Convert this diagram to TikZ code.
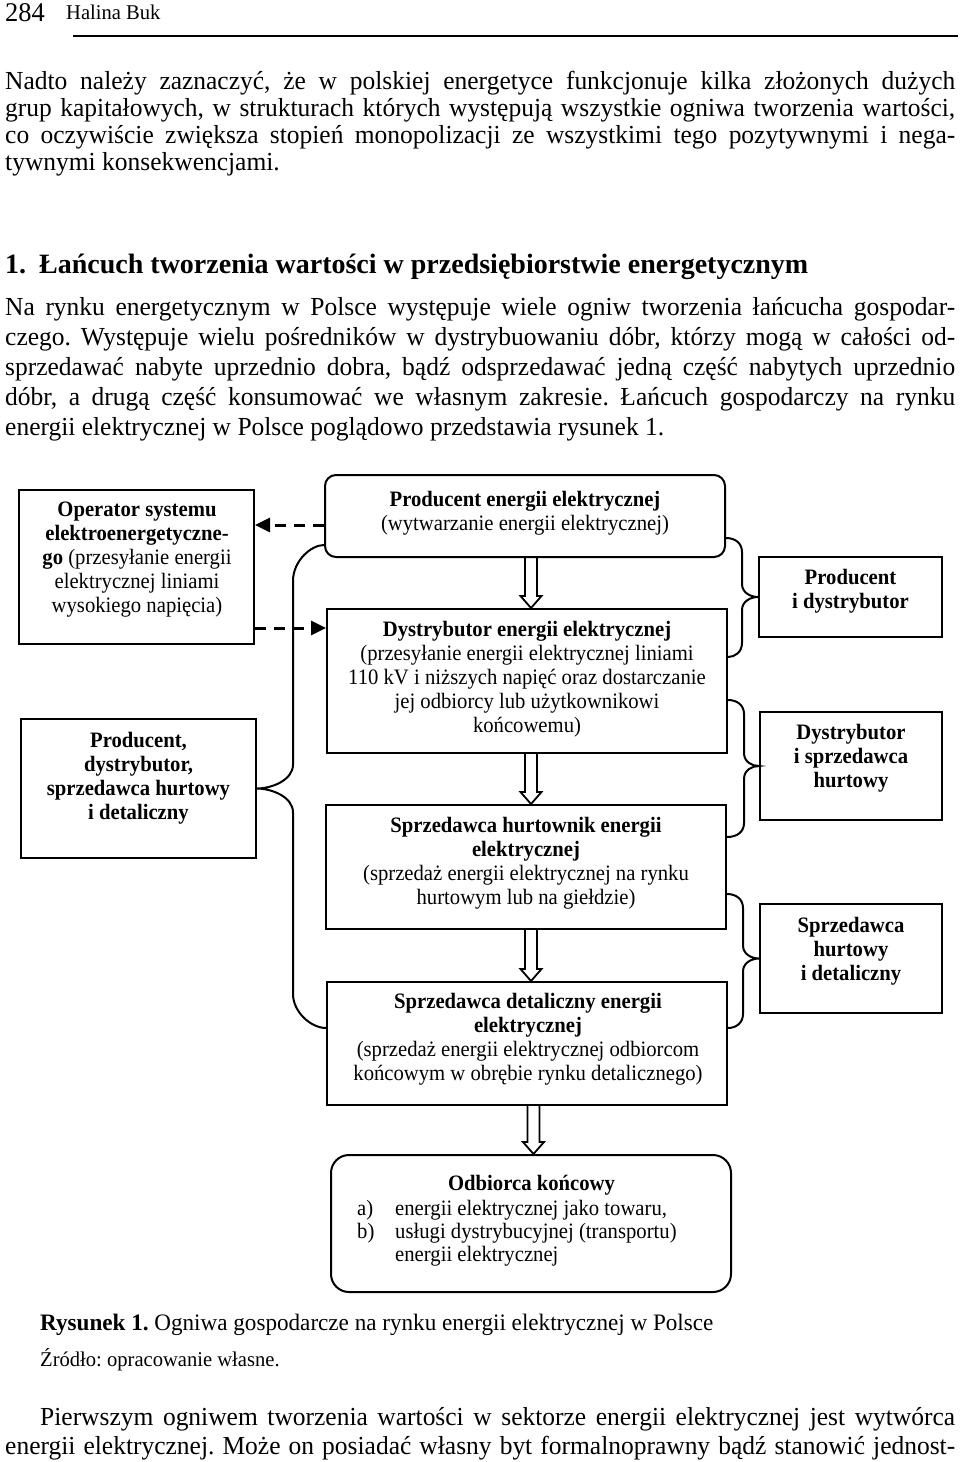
\documentclass[tikz,border=0pt]{standalone}
\usepackage{fontspec}
\setmainfont{Liberation Serif}
\newfontfamily\bodyf{Liberation Serif}[FakeStretch=0.98]
\newfontfamily\headf{Liberation Serif}
\newfontfamily\diagf{Liberation Serif}[FakeStretch=0.94]
\usetikzlibrary{arrows.meta,calc}
\frenchspacing

\tikzset{
  box/.style={draw, line width=2pt, inner sep=0pt},
  rbox/.style={box, rounded corners=11pt},
  txt/.style={inner sep=0pt, font=\diagf\fontsize{22}{24}\selectfont, align=center,
    execute at begin node=\strut, execute at end node=\strut},
  btxt/.style={txt, font=\diagf\fontsize{22}{24}\selectfont\bfseries},
  dline/.style={inner sep=0pt, anchor=base west, font=\diagf\fontsize{22}{24}\selectfont},
  bline/.style={inner sep=0pt, anchor=base west, font=\bodyf\fontsize{26}{28}\selectfont},
  hline/.style={inner sep=0pt, anchor=base west, font=\headf\fontsize{28}{30}\selectfont\bfseries},
  capline/.style={inner sep=0pt, anchor=base west, font=\bodyf\fontsize{23.6}{26}\selectfont},
  srcline/.style={inner sep=0pt, anchor=base west, font=\bodyf\fontsize{21}{24}\selectfont},
  harr/.style={line width=1.8pt, line join=miter},
  dasharr/.style={line width=3pt, dash pattern=on 11pt off 8pt, -{Triangle[length=15pt,width=14pt]}},
  brace/.style={line width=2pt},
}

\newcommand\hollowarr[3]{%
  \draw[harr] let \p1=(#3 |- #1.south), \p2=(#3 |- #2.north) in
    (\x1-6pt,\y1) -- (\x1-6pt,\y2+12pt) -- (\x1-10.5pt,\y2+12pt) -- (\x1,\y2)
    -- (\x1+10.5pt,\y2+12pt) -- (\x1+6pt,\y2+12pt) -- (\x1+6pt,\y1);}

\newcommand\mybraceR[3]{%
  \draw[brace] let \p1=(#1), \p2=(#2), \p3=(#3) in
    (\p1) .. controls (\x1+9pt,\y1) and (\x1+16pt,\y1-5pt) .. (\x1+16pt,\y1-14pt)
    -- (\x1+16pt,\y2+13pt) .. controls (\x1+16pt,\y2+4pt) and (\x2-7pt,\y2) .. (\p2)
    .. controls (\x2-7pt,\y2) and (\x1+16pt,\y2-4pt) .. (\x1+16pt,\y2-13pt)
    -- (\x1+16pt,\y3+14pt) .. controls (\x1+16pt,\y3+5pt) and (\x1+9pt,\y3) .. (\p3);}

\newcommand\mybraceL[3]{%
  \draw[brace] let \p1=(#1), \p2=(#2), \p3=(#3) in
    (\p1) .. controls (\x2+54pt,\y1) and (\x2+36pt,\y1-16pt) .. (\x2+36pt,\y1-36pt)
    -- (\x2+36pt,\y2+24pt) .. controls (\x2+36pt,\y2+8pt) and (\x2+14pt,\y2) .. (\p2)
    .. controls (\x2+14pt,\y2) and (\x2+36pt,\y2-8pt) .. (\x2+36pt,\y2-24pt)
    -- (\x2+36pt,\y3+34pt) .. controls (\x2+36pt,\y3+16pt) and (\x2+54pt,\y3) .. (\p3);}

\begin{document}
\begin{tikzpicture}[x=1pt, y=-1pt]
\useasboundingbox (0,0) rectangle (960,1462);

% ---------- header ----------
\node[inner sep=0pt, anchor=base west, font=\bodyf\fontsize{27}{30}\selectfont] (pnum) at (5,21) {284};
\node[inner sep=0pt, anchor=base west, font=\bodyf\fontsize{21}{24}\selectfont] (auth) at (66,19) {Halina Buk};
\coordinate (ruleL) at (73,36);
\coordinate (ruleR) at (958,36);
\draw[line width=1.2pt] (ruleL) -- (ruleR);

% ---------- paragraph 1 ----------
\node[bline] (p1a) at (5,89) {\makebox[950pt][s]{Nadto należy zaznaczyć, że w polskiej energetyce funkcjonuje kilka złożonych dużych}};
\node[bline] (p1b) at (5,116) {\makebox[950pt][s]{grup kapitałowych, w strukturach których występują wszystkie ogniwa tworzenia wartości,}};
\node[bline] (p1c) at (5,143) {\makebox[950pt][s]{co oczywiście zwiększa stopień monopolizacji ze wszystkimi tego pozytywnymi i nega-}};
\node[bline] (p1d) at (5,170) {tywnymi konsekwencjami.};

% ---------- heading ----------
\node[hline] (sec) at (5,273) {1.\hspace{13pt}Łańcuch tworzenia wartości w przedsiębiorstwie energetycznym};

% ---------- paragraph 2 ----------
\node[bline] (p2a) at (5,315) {\makebox[950pt][s]{Na rynku energetycznym w Polsce występuje wiele ogniw tworzenia łańcucha gospodar-}};
\node[bline] (p2b) at (5,345) {\makebox[950pt][s]{czego. Występuje wielu pośredników w dystrybuowaniu dóbr, którzy mogą w całości od-}};
\node[bline] (p2c) at (5,375) {\makebox[950pt][s]{sprzedawać nabyte uprzednio dobra, bądź odsprzedawać jedną część nabytych uprzednio}};
\node[bline] (p2d) at (5,405) {\makebox[950pt][s]{dóbr, a drugą część konsumować we własnym zakresie. Łańcuch gospodarczy na rynku}};
\node[bline] (p2e) at (5,435) {energii elektrycznej w Polsce poglądowo przedstawia rysunek 1.};

% ---------- diagram boxes ----------
\node[box, minimum width=235pt, minimum height=154pt] (op) at (136.5,567) {};
\node[box, minimum width=235pt, minimum height=139pt] (pds) at (138.5,788.5) {};
\node[rbox, minimum width=400pt, minimum height=82pt] (prod) at (525,516) {};
\node[box, minimum width=400pt, minimum height=144pt] (dyst) at (527,681) {};
\node[box, minimum width=400pt, minimum height=124pt] (hurt) at (526,867) {};
\node[box, minimum width=400pt, minimum height=123pt] (det) at (527,1043.5) {};
\node[box, rounded corners=18pt, minimum width=400pt, minimum height=137pt] (odb) at (531,1223.5) {};
\node[box, minimum width=183pt, minimum height=80pt] (pid) at (850.5,597) {};
\node[box, minimum width=182pt, minimum height=108pt] (dsh) at (851,766) {};
\node[box, minimum width=182pt, minimum height=109pt] (shd) at (851,958.5) {};

% ---------- diagram texts ----------
\node[txt] (op-t) at (137,560.5) {\textbf{Operator systemu}\\\textbf{elektroenergetyczne-}\\\textbf{go} (przesyłanie energii\\elektrycznej liniami\\wysokiego napięcia)};
\node[btxt] (pds-t) at (138.5,779) {Producent,\\dystrybutor,\\sprzedawca hurtowy\\i detaliczny};
\node[txt] (prod-t) at (525,514) {\textbf{Producent energii elektrycznej}\\(wytwarzanie energii elektrycznej)};
\node[txt] (dyst-t) at (527,680) {\textbf{Dystrybutor energii elektrycznej}\\(przesyłanie energii elektrycznej liniami\\110 kV i niższych napięć oraz dostarczanie\\jej odbiorcy lub użytkownikowi\\końcowemu)};
\node[txt] (hurt-t) at (526,864) {\textbf{Sprzedawca hurtownik energii}\\\textbf{elektrycznej}\\(sprzedaż energii elektrycznej na rynku\\hurtowym lub na giełdzie)};
\node[txt] (det-t) at (528,1040.5) {\textbf{Sprzedawca detaliczny energii}\\\textbf{elektrycznej}\\(sprzedaż energii elektrycznej odbiorcom\\końcowym w obrębie rynku detalicznego)};
\node[btxt] (pid-t) at (850.5,592.5) {Producent\\i dystrybutor};
\node[btxt] (dsh-t) at (851,759) {Dystrybutor\\i sprzedawca\\hurtowy};
\node[btxt] (shd-t) at (851,952.5) {Sprzedawca\\hurtowy\\i detaliczny};

\node[inner sep=0pt, anchor=base, font=\diagf\fontsize{22}{24}\selectfont\bfseries] (odb-t) at (531.5,1190) {Odbiorca końcowy};
\node[dline] (odb-la) at (357,1215) {a)};
\node[dline] (odb-a) at (395,1215) {energii elektrycznej jako towaru,};
\node[dline] (odb-lb) at (357,1238.5) {b)};
\node[dline] (odb-b) at (395,1238.5) {usługi dystrybucyjnej (transportu)};
\node[dline] (odb-c) at (395,1261) {energii elektrycznej};

% ---------- hollow arrows ----------
\coordinate (ax) at (531,0);
\coordinate (ax2) at (533.5,0);
\hollowarr{prod}{dyst}{ax}
\hollowarr{dyst}{hurt}{ax}
\hollowarr{hurt}{det}{ax}
\hollowarr{det}{odb}{ax2}

% ---------- dashed arrows ----------
\coordinate (d1) at ($(prod.west)+(0,9)$);
\coordinate (d2) at ($(dyst.west)+(0,-53)$);
\draw[dasharr] (d1) -- (d1 -| op.east);
\draw[dasharr] (d2 -| op.east) -- (d2);

% ---------- braces ----------
\mybraceR{$(prod.east)+(0,22)$}{pid.west}{$(dyst.east)+(0,-24)$}
\mybraceR{$(dyst.east)+(0,19)$}{dsh.west}{$(hurt.east)+(0,-30)$}
\mybraceR{$(hurt.east)+(0,27)$}{shd.west}{$(det.east)+(0,-15.5)$}
\mybraceL{$(prod.west)+(0,29)$}{pds.east}{$(det.west)+(0,-15.5)$}

% ---------- caption and following text ----------
\node[capline] (cap) at (40,1330) {\textbf{Rysunek 1.} Ogniwa gospodarcze na rynku energii elektrycznej w Polsce};
\node[srcline] (src) at (40,1366) {Źródło: opracowanie własne.};
\node[bline] (p3a) at (40,1425) {\makebox[915pt][s]{Pierwszym ogniwem tworzenia wartości w sektorze energii elektrycznej jest wytwórca}};
\node[bline] (p3b) at (5,1454) {\makebox[950pt][s]{energii elektrycznej. Może on posiadać własny byt formalnoprawny bądź stanowić jednost-}};
\end{tikzpicture}
\end{document}
